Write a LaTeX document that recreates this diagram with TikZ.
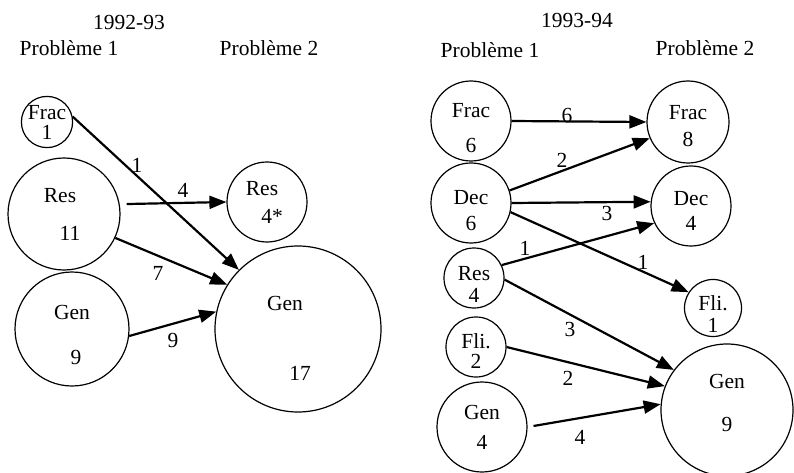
\documentclass[tikz,border=0pt]{standalone}
\usepackage{fontspec}
\setmainfont{Liberation Serif}
\usetikzlibrary{arrows.meta}

\begin{document}
\begin{tikzpicture}[
x=1pt,y=-1pt,
every node/.style={font=\fontsize{21.5}{26}\selectfont},
ring/.style={draw,circle,line width=1.2pt,inner sep=0pt,align=center},
flow/.style={line width=2.2pt,-{Triangle[length=17pt,width=13pt]}},
]
\useasboundingbox (0,0) rectangle (794,473);

\node (ta) at (129,22) {1992-93};
\node (ta1) at (69,48) {Problème 1};
\node (ta2) at (269,48) {Problème 2};
\node (tb) at (577,20) {1993-94};
\node (tb1) at (490,50) {Problème 1};
\node (tb2) at (705,48) {Problème 2};

\node[ring,minimum size=50pt] (xfrac) at (47,122) {Frac\\[-6pt]1};
\node[ring,minimum size=112pt] (xres) at (64,214) {Res\hspace*{8pt}\\[12pt]\hspace*{12pt}11};
\node[ring,minimum size=114pt] (xgen) at (72,329) {\rule{0pt}{27pt}Gen\\[19pt]\hspace*{8pt}9};
\node[ring,minimum size=80pt] (yres) at (267,202) {Res\hspace*{10pt}\\[2pt]\hspace*{10pt}4*};
\node[ring,minimum size=166pt] (ygen) at (298,329) {\rule{0pt}{33pt}Gen\hspace*{26pt}\\[44pt]\hspace*{4pt}17};

\node[ring,minimum size=80pt] (ufrac) at (471,121) {\rule{0pt}{29pt}Frac\\[9pt]6};
\node[ring,minimum size=80pt] (udec) at (471,203) {\rule{0pt}{29pt}Dec\\[0pt]6};
\node[ring,minimum size=60pt] (ures) at (474,278) {\rule{0pt}{27pt}Res\\[-4pt]4};
\node[ring,minimum size=60pt] (ufli) at (476,347) {\rule{0pt}{23pt}Fli.\\[-6pt]2};
\node[ring,minimum size=90pt] (ugen) at (482,427) {Gen\\[4pt]4};
\node[ring,minimum size=82pt] (vfrac) at (688,122) {\rule{0pt}{23pt}Frac\\[1pt]8};
\node[ring,minimum size=80pt] (vdec) at (691,206) {\rule{0pt}{23pt}Dec\\[-1pt]4};
\node[ring,minimum size=56pt] (vfli) at (713,308) {\rule{0pt}{27pt}Fli.\\[-4pt]1};
\node[ring,minimum size=132pt] (vgen) at (727,410) {Gen\\[17pt]9\rule[-14pt]{0pt}{14pt}};

\draw[flow] (xfrac.12.5) -- (ygen.135.5);
\draw[flow,shorten <=7pt] (xres.10.8) -- (yres.180);
\draw[flow] (xres.-25.7) -- (ygen.148.9);
\draw[flow] (xgen.-7.9) -- (ygen.168.7);

\draw[flow] (ufrac.0) -- (vfrac.180);
\draw[flow] (udec.18.4) -- (vfrac.203.2);
\draw[flow] (udec.0) -- (vdec.174.7);
\draw[flow] (udec.-13) -- (vfli.147.3);
\draw[flow] (ures.25.8) -- (vdec.205);
\draw[flow] (ures.-3.7) -- (vgen.143.6);
\draw[flow] (ufli.0) -- (vgen.159.3);
\draw[flow,shorten <=6pt] (ugen.0) -- (vgen.175.7);

\node (n1) at (137,165) {1};
\node (n2) at (183,190) {4};
\node (n3) at (158,273) {7};
\node (n4) at (173,340) {9};

\node (m1) at (567,115) {6};
\node (m2) at (562,160) {2};
\node (m3) at (607,213) {3};
\node (m4) at (643,262) {1};
\node (m5) at (525,248) {1};
\node (m6) at (570,329) {3};
\node (m7) at (568,378) {2};
\node (m8) at (580,437) {4};

\end{tikzpicture}
\end{document}
